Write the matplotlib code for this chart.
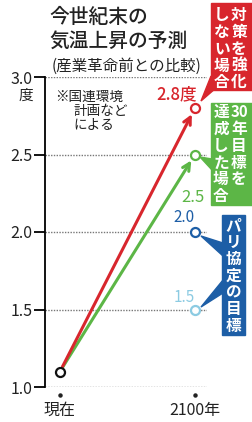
import matplotlib
matplotlib.use("Agg")
import matplotlib.pyplot as plt
from matplotlib.patches import Rectangle, Polygon
from matplotlib.transforms import blended_transform_factory

plt.rcParams['font.family'] = ['Noto Sans CJK JP', 'DejaVu Sans']

# ---- data ----
x_labels = ["現在", "2100年"]
start_value = 1.1
scenario_values = [2.8, 2.5, 2.0, 1.5]          # end-of-century projections
scenario_texts = ["2.8度", "2.5", "2.0", "1.5"]
y_ticks = [1.0, 1.5, 2.0, 2.5, 3.0]
y_tick_labels = ["1.0", "1.5", "2.0", "2.5", "3.0"]

RED = "#d8262d"
GREEN = "#5cb646"
BLUE = "#1d5ea6"
LBLUE = "#8ccbe2"
scen_colors = [RED, GREEN, BLUE, LBLUE]

W, H = 252, 422
fig = plt.figure(figsize=(W / 100, H / 100), dpi=100)
fig.patch.set_facecolor("white")

# main axes in pixel geometry
ax_l, ax_r, ax_top, ax_bot = 45, 207, 77, 387
ax = fig.add_axes([ax_l / W, (H - ax_bot) / H, (ax_r - ax_l) / W, (ax_bot - ax_top) / H])
ax.set_xlim(-15 / 135, 1 + 12 / 135)
ax.set_ylim(1.0, 3.0)
for s in ["top", "right", "bottom"]:
    ax.spines[s].set_visible(False)
ax.spines["left"].set_linewidth(1.3)
ax.set_yticks(y_ticks)
ax.set_yticklabels(y_tick_labels, fontsize=11.5, color="#222222")
ax.tick_params(axis="y", length=8, width=1.3, pad=1)
ax.set_xticks([0, 1])
ax.set_xticklabels(x_labels, fontsize=11.5, color="#222222")
ax.tick_params(axis="x", length=0, pad=11)
ax.set_facecolor("none")

for yv in y_ticks:
    ax.axhline(yv, color="#777777", lw=1.0, ls=(0, (1, 1)), zorder=1)

# small dots under x positions
tr = blended_transform_factory(ax.transData, ax.transAxes)
ax.plot([0, 1], [-0.027, -0.027], "o", color="#222222", ms=2.2, transform=tr, clip_on=False)

# arrows for the two upper scenarios
for v, c, z in [(scenario_values[1], GREEN, 3), (scenario_values[0], RED, 4)]:
    ax.annotate("", xy=(1, v), xytext=(0, start_value),
                arrowprops=dict(arrowstyle="->", lw=2.2, color=c, shrinkA=4, shrinkB=5,
                                mutation_scale=13), zorder=z)

# points
ax.plot([0], [start_value], "o", ms=6.5, mfc="white", mec="#111111", mew=1.6, zorder=6, clip_on=False)
for v, c in zip(scenario_values, scen_colors):
    ax.plot([1], [v], "o", ms=6.5, mfc="white", mec=c, mew=1.6, zorder=6, clip_on=False)

# ---- overlay in pixel coordinates ----
ov = fig.add_axes([0, 0, 1, 1], zorder=10)
ov.set_xlim(0, W)
ov.set_ylim(H, 0)
ov.axis("off")
ov.patch.set_alpha(0)

# title
ov.text(49, 17, "今世紀末の", fontsize=14.2, fontweight="medium", ha="left", va="center", color="#222222")
ov.text(49, 41, "気温上昇の予測", fontsize=14.2, fontweight="medium", ha="left", va="center", color="#222222")
ov.text(52, 66, "(産業革命前との比較)", fontsize=11.2, ha="left", va="center", color="#222222")
ov.text(26, 96, "度", fontsize=10.5, ha="center", va="center", color="#222222")

# note
ov.text(55, 97, "※国連環境", fontsize=9.8, ha="left", va="center", color="#222222")
ov.text(73, 111, "計画など", fontsize=9.8, ha="left", va="center", color="#222222")
ov.text(73, 125, "による", fontsize=9.8, ha="left", va="center", color="#222222")

# value labels
ov.text(197, 94, scenario_texts[0], fontsize=12, ha="right", va="center", color=RED, fontweight="medium")
ov.text(193, 197, scenario_texts[1], fontsize=12, ha="center", va="center", color=GREEN)
ov.text(184, 218, scenario_texts[2], fontsize=11, ha="center", va="center", color=BLUE)
ov.text(184, 297, scenario_texts[3], fontsize=11, ha="center", va="center", color=LBLUE)

# boxes
ov.add_patch(Rectangle((211, 3), 41, 87, color=RED, zorder=2))
ov.add_patch(Polygon([(211, 76), (216, 88), (201, 101)], closed=True, color=RED, zorder=2))
ov.add_patch(Rectangle((211, 103), 41, 102, color=GREEN, zorder=2))
ov.add_patch(Polygon([(212, 159), (212, 170), (200, 157)], closed=True, color=GREEN, zorder=2))
ov.add_patch(Rectangle((222, 215), 23, 120, color=BLUE, zorder=2))
ov.add_patch(Polygon([(223, 243), (223, 256), (201, 236)], closed=True, color=BLUE, zorder=2))
ov.add_patch(Polygon([(223, 280), (223, 293), (201, 307)], closed=True, color=BLUE, zorder=2))

def vcol(chars, x, y0, step=16.8, fs=11.3):
    for i, ch in enumerate(chars):
        ov.text(x, y0 + i * step, ch, fontsize=fs, fontweight="bold", color="white",
                ha="center", va="center", zorder=3)

vcol(["対", "策", "を", "強", "化"], 239, 15)
vcol(["し", "な", "い", "場", "合"], 222, 15)
ov.text(239, 112, "30", fontsize=10.8, fontweight="bold", color="white", ha="center", va="center", zorder=3)
vcol(["年", "目", "標", "を"], 239, 129)
vcol(["達", "成", "し", "た", "場", "合"], 221, 112)
vcol(["パ", "リ", "協", "定", "の", "目", "標"], 233.5, 225)

fig.savefig("out.png", dpi=100, facecolor="white")
